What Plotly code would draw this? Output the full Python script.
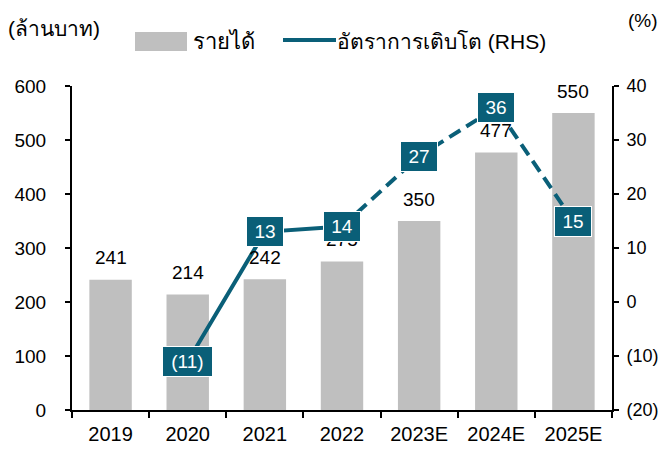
import plotly.graph_objects as go

categories = ["2019", "2020", "2021", "2022", "2023E", "2024E", "2025E"]
revenue = [241, 214, 242, 275, 350, 477, 550]
growth_actual = [None, -11, 13, 14, None, None, None]
growth_forecast = [None, None, None, 14, 27, 36, 15]
growth_labels = [None, -11, 13, 14, 27, 36, 15]
y1_ticks = [0, 100, 200, 300, 400, 500, 600]
y2_ticks = [-20, -10, 0, 10, 20, 30, 40]
y2_ticktext = ["(20)", "(10)", "0", "10", "20", "30", "40"]

BAR = "#BFBFBF"
TEAL = "#0A5F78"
FONT = "Arial, Liberation Sans, sans-serif"
FS = 19

# page body has an 8px default margin; size figure so it ends at the window edge
OFF = 8
W, H = 667 - OFF, 450 - OFF
L, R, T, B = 72, 612, 86, 410  # plot area in window pixels

fig = go.Figure()
fig.add_trace(go.Bar(x=categories, y=revenue, marker=dict(color=BAR, line=dict(width=0)),
                     width=0.55, name="รายได้", showlegend=False))
fig.add_trace(go.Scatter(x=categories, y=growth_actual, yaxis="y2", mode="lines",
                         line=dict(color=TEAL, width=4), showlegend=False))
fig.add_trace(go.Scatter(x=categories, y=growth_forecast, yaxis="y2", mode="lines",
                         line=dict(color=TEAL, width=4, dash="13px,7px"), showlegend=False))

def px(x):
    return (x - L) / (R - L)
def py(y):
    return (B - y) / (B - T)

annotations = []
for i, v in enumerate(revenue):
    annotations.append(dict(x=i, y=v, xref="x", yref="y", text=str(v), showarrow=False,
                            yanchor="middle", yshift=22,
                            font=dict(size=FS, color="#000", family=FONT)))
for i, g in enumerate(growth_labels):
    if g is None:
        continue
    t = f"({abs(g)})" if g < 0 else str(g)
    annotations.append(dict(x=i, y=g, xref="x", yref="y2", text=t, showarrow=False,
                            xanchor="center", yanchor="middle",
                            width=47 if g < 0 else 34, height=27,
                            bgcolor=TEAL, bordercolor="white", borderwidth=1, borderpad=1,
                            font=dict(size=FS, color="white", family=FONT)))
annotations += [
    dict(x=px(6), y=py(28), xref="paper", yref="paper", xanchor="left", yanchor="middle",
         text="(ล้านบาท)", showarrow=False, font=dict(size=21, family=FONT)),
    dict(x=px(626), y=py(20), xref="paper", yref="paper", xanchor="left", yanchor="middle",
         text="(%)", showarrow=False, font=dict(size=FS, family=FONT)),
    dict(x=px(191), y=py(41), xref="paper", yref="paper", xanchor="left", yanchor="middle",
         text="รายได้", showarrow=False, font=dict(size=22, family=FONT)),
    dict(x=px(335), y=py(41), xref="paper", yref="paper", xanchor="left", yanchor="middle",
         text="อัตราการเติบโต (RHS)", showarrow=False, font=dict(size=21, family=FONT)),
]

axis_common = dict(showline=True, linecolor="#000", linewidth=2, ticks="outside",
                   tickwidth=2, tickcolor="#000", showgrid=False, zeroline=False,
                   automargin=False)

fig.update_layout(
    width=W, height=H,
    margin=dict(l=L - OFF, r=W - (R - OFF), t=T - OFF, b=H - (B - OFF)),
    paper_bgcolor="white", plot_bgcolor="white",
    showlegend=False,
    font=dict(family=FONT, size=FS, color="#000"),
    xaxis=dict(type="category", categoryorder="array", categoryarray=categories,
               range=[-0.5, 6.5], autorange=False, tickson="boundaries", ticklen=6,
               tickangle=0, ticklabelstandoff=5, tickfont=dict(size=20), **axis_common),
    yaxis=dict(range=[0, 600], tickvals=y1_ticks, ticklen=5, ticklabelstandoff=15,
               tickfont=dict(size=FS), **axis_common),
    yaxis2=dict(range=[-20, 40], tickvals=y2_ticks, ticktext=y2_ticktext, overlaying="y",
                side="right", ticklen=5, ticklabelstandoff=4, tickfont=dict(size=18),
                **axis_common),
    annotations=annotations,
    shapes=[
        dict(type="rect", xref="paper", yref="paper", x0=px(135), x1=px(187), y0=py(51), y1=py(32),
             fillcolor=BAR, line=dict(width=0)),
        dict(type="line", xref="paper", yref="paper", x0=px(283), x1=px(336), y0=py(40), y1=py(40),
             line=dict(color=TEAL, width=4)),
    ],
)

fig.write_html("out.html")
